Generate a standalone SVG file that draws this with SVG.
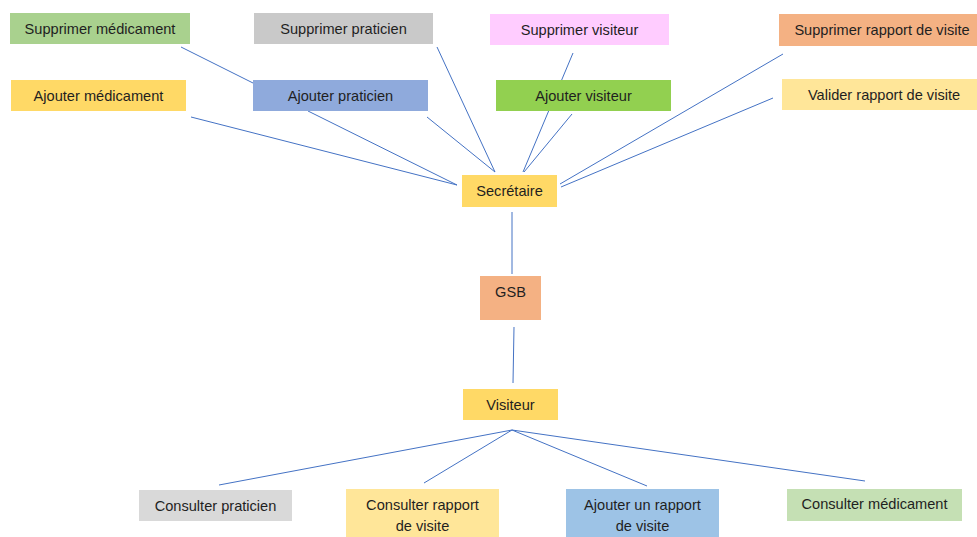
<svg xmlns="http://www.w3.org/2000/svg" width="977" height="537" viewBox="0 0 977 537">
<style>
text{font-family:"Liberation Sans",Arial,sans-serif;font-size:14.6px;fill:#1f1f1f;text-anchor:middle;dominant-baseline:central}
.c line{stroke:#4472C4;stroke-width:1}
</style>
<rect width="977" height="537" fill="#ffffff"/>
<g id="connectors" class="c">
<line x1="181" y1="47" x2="253" y2="83"/>
<line x1="191" y1="117" x2="457" y2="185"/>
<line x1="308" y1="111" x2="457" y2="185"/>
<line x1="427" y1="117" x2="495" y2="172"/>
<line x1="437" y1="47" x2="495" y2="172"/>
<line x1="573" y1="53" x2="523" y2="172"/>
<line x1="572" y1="114" x2="524" y2="172"/>
<line x1="783" y1="54" x2="560" y2="184"/>
<line x1="773" y1="98" x2="561" y2="187"/>
<line x1="512" y1="212" x2="512" y2="274"/>
<line x1="514" y1="327" x2="513" y2="383"/>
<line x1="512" y1="430" x2="219" y2="485"/>
<line x1="512" y1="430" x2="424" y2="483"/>
<line x1="512" y1="430" x2="647" y2="486"/>
<line x1="512" y1="430" x2="865" y2="481"/>
</g>
<g id="supprimer-medicament"><rect x="10" y="13" width="180" height="31" fill="#A9D18E"/><text x="100" y="28.5">Supprimer médicament</text></g>
<g id="supprimer-praticien"><rect x="254" y="13" width="179" height="31" fill="#C9C9C9"/><text x="343.5" y="28.5">Supprimer praticien</text></g>
<g id="ajouter-medicament"><rect x="11" y="80" width="175" height="31" fill="#FFD966"/><text x="98.5" y="96">Ajouter médicament</text></g>
<g id="ajouter-praticien"><rect x="253" y="80" width="175" height="31" fill="#8FAADC"/><text x="340.5" y="96">Ajouter praticien</text></g>
<g id="supprimer-visiteur"><rect x="490" y="14" width="179" height="31" fill="#FFCCFF"/><text x="579.5" y="29.5">Supprimer visiteur</text></g>
<g id="ajouter-visiteur"><rect x="496" y="80" width="175" height="31" fill="#92D050"/><text x="583.5" y="96">Ajouter visiteur</text></g>
<g id="supprimer-rapport"><rect x="779" y="14" width="206" height="32" fill="#F4B183"/><text x="882" y="30">Supprimer rapport de visite</text></g>
<g id="valider-rapport"><rect x="782" y="79" width="200" height="31" fill="#FFE699"/><text x="884" y="95">Valider rapport de visite</text></g>
<g id="secretaire"><rect x="462" y="175" width="95" height="32" fill="#FFD966"/><text x="509.5" y="191">Secrétaire</text></g>
<g id="gsb"><rect x="480" y="276" width="61" height="44" fill="#F4B183"/><text x="510.5" y="292">GSB</text></g>
<g id="visiteur"><rect x="463" y="389" width="95" height="31" fill="#FFD966"/><text x="510.5" y="404.5">Visiteur</text></g>
<g id="consulter-praticien"><rect x="139" y="490" width="153" height="31" fill="#D9D9D9"/><text x="215.5" y="505.5">Consulter praticien</text></g>
<g id="consulter-rapport"><rect x="346" y="489" width="153" height="48" fill="#FFE699"/><text x="422.5" y="505">Consulter rapport</text><text x="422.5" y="526">de visite</text></g>
<g id="ajouter-rapport"><rect x="566" y="489" width="153" height="48" fill="#9DC3E6"/><text x="642.5" y="505">Ajouter un rapport</text><text x="642.5" y="526">de visite</text></g>
<g id="consulter-medicament"><rect x="787" y="489" width="175" height="32" fill="#C5E0B4"/><text x="874.5" y="504">Consulter médicament</text></g>
</svg>
